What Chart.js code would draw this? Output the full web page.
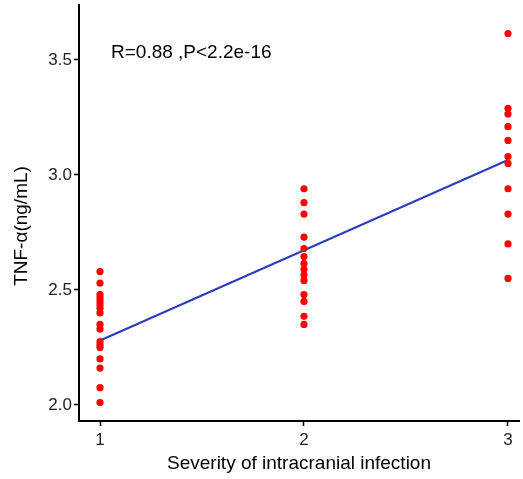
<!DOCTYPE html>
<html>
<head>
<meta charset="utf-8">
<script src="https://cdn.jsdelivr.net/npm/chart.js@4/dist/chart.umd.min.js"></script>
<style>
  html, body { margin: 0; padding: 0; background: #fff; }
  #wrap { width: 523px; height: 479px; }
</style>
</head>
<body>
<div id="wrap"><canvas id="scatter"></canvas></div>
<script>
// values
var group1 = [2.58, 2.53, 2.48, 2.465, 2.45, 2.435, 2.42, 2.40, 2.35, 2.33, 2.275, 2.26, 2.25, 2.20, 2.16, 2.075, 2.01];
var group2 = [2.94, 2.88, 2.83, 2.73, 2.68, 2.645, 2.615, 2.59, 2.565, 2.54, 2.48, 2.45, 2.385, 2.35];
var group3 = [3.615, 3.29, 3.265, 3.21, 3.15, 3.08, 3.05, 2.94, 2.83, 2.70, 2.55];
var fitX = [1, 3];
var fitY = [2.28, 3.065];
var xTicks = [1, 2, 3];
var yTicks = [2.0, 2.5, 3.0, 3.5];
var statText = "R=0.88 ,P<2.2e-16";
var yTitle = "TNF-α(ng/mL)";

let points = [];
[group1, group2, group3].forEach((g, i) => {
  for (const v of g) points.push({ x: i + 1, y: v });
});
let fitLine = fitX.map((x, i) => ({ x: x, y: fitY[i] }));

const family = "'Liberation Sans', Arial, sans-serif";

// stat text and y title drawn by hand
const extraText = {
  id: "extraText",
  afterDraw(chart) {
    const ctx = chart.ctx;
    ctx.save();
    ctx.fillStyle = "#000";
    ctx.font = "19px " + family;
    ctx.textBaseline = "alphabetic";
    ctx.textAlign = "left";
    ctx.fillText(statText, 111, 58);

    ctx.translate(22, 226);
    ctx.rotate(-Math.PI / 2);
    ctx.textAlign = "center";
    ctx.textBaseline = "middle";
    ctx.fillText(yTitle, 0, 0);
    ctx.restore();
  },
};

const font = { family: family, size: 17 };

new Chart("scatter", {
  type: "scatter",
  data: {
    datasets: [
      {
        data: points,
        backgroundColor: "#ff0000",
        borderWidth: 0,
        pointRadius: 3.6,
      },
      {
        type: "line",
        data: fitLine,
        borderColor: "#2b3cc0",
        borderWidth: 2,
        pointRadius: 0,
        fill: false,
      },
    ],
  },
  options: {
    responsive: true,
    maintainAspectRatio: false,
    animation: false,
    layout: { padding: { top: 5, right: 0, left: 0, bottom: 0 } },
    plugins: { legend: { display: false }, tooltip: { enabled: false } },
    scales: {
      x: {
        type: "linear",
        min: 0.897,
        max: 3.054,
        afterBuildTicks: (s) => { s.ticks = xTicks.map((v) => ({ value: v })); },
        afterFit: (s) => { s.height = 58; s.paddingLeft = 0; s.paddingRight = 0; },
        grid: { display: true, drawOnChartArea: false, drawTicks: true, tickLength: 5, color: "#000", tickWidth: 1.5 },
        border: { display: true, color: "#000", width: 2 },
        ticks: { color: "#222", font: font, padding: 4 },
        title: { display: true, text: "Severity of intracranial infection", color: "#000", font: { family: family, size: 19 }, padding: { top: 2 } },
      },
      y: {
        min: 1.93,
        max: 3.739,
        afterBuildTicks: (s) => { s.ticks = yTicks.map((v) => ({ value: v })); },
        afterFit: (s) => { s.width = 79; s.paddingTop = 0; s.paddingBottom = 0; },
        grid: { display: true, drawOnChartArea: false, drawTicks: true, tickLength: 5, color: "#000", tickWidth: 1.5 },
        border: { display: true, color: "#000", width: 2 },
        ticks: { color: "#222", font: font, padding: 2, callback: (v) => v.toFixed(1) },
      },
    },
  },
  plugins: [extraText],
});
</script>
</body>
</html>
